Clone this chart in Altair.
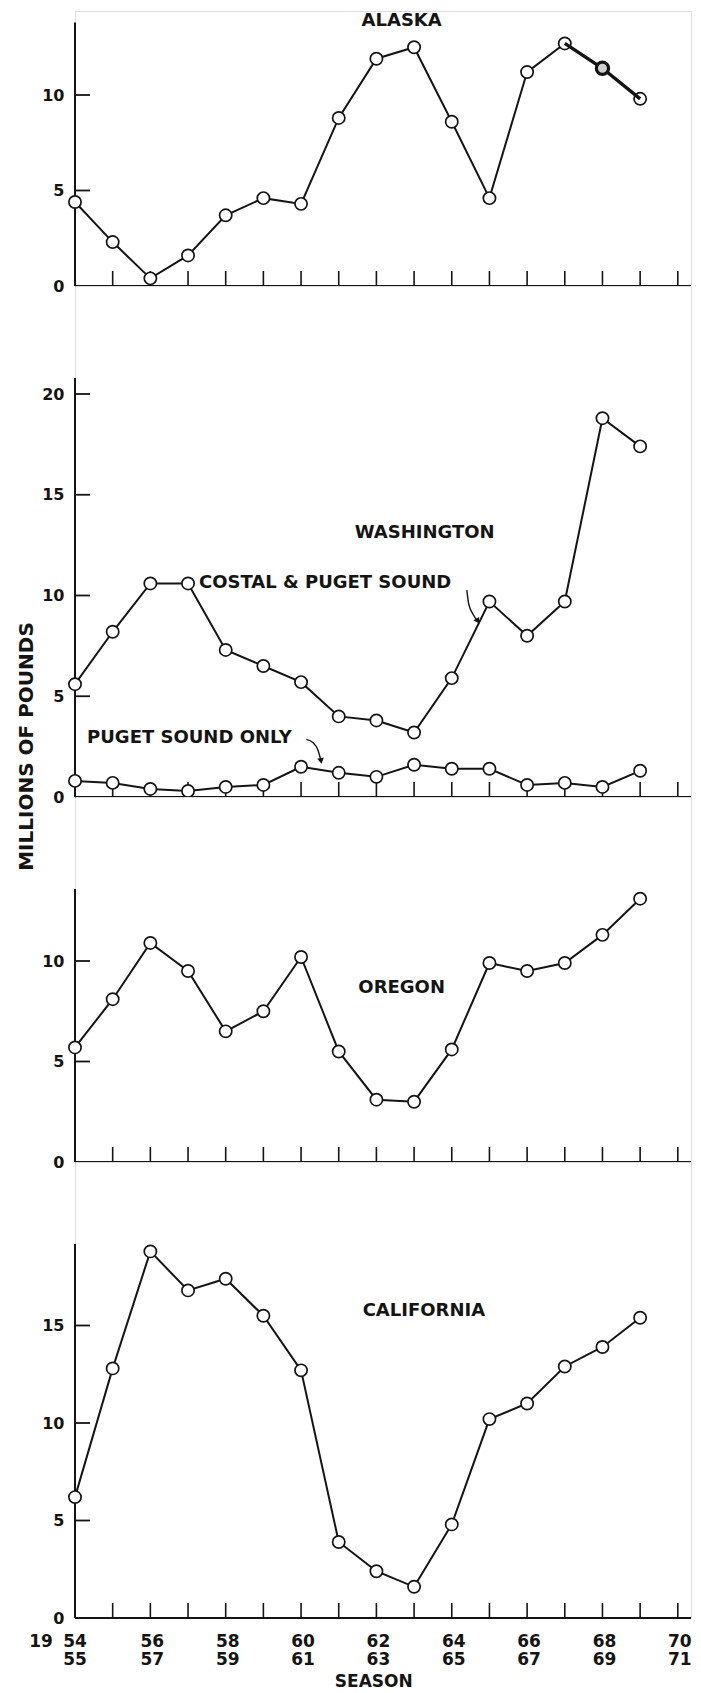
import altair as alt
import pandas as pd

# Landings by season, millions of pounds (seasons 1954-55 .. 1969-70)
YEARS = list(range(1954, 1970))
ALASKA = [4.4, 2.3, 0.4, 1.6, 3.7, 4.6, 4.3, 8.8, 11.9, 12.5, 8.6, 4.6, 11.2, 12.7, 11.4, 9.8]
WA_COASTAL_PUGET = [5.6, 8.2, 10.6, 10.6, 7.3, 6.5, 5.7, 4.0, 3.8, 3.2, 5.9, 9.7, 8.0, 9.7, 18.8, 17.4]
WA_PUGET_ONLY = [0.8, 0.7, 0.4, 0.3, 0.5, 0.6, 1.5, 1.2, 1.0, 1.6, 1.4, 1.4, 0.6, 0.7, 0.5, 1.3]
OREGON = [5.7, 8.1, 10.9, 9.5, 6.5, 7.5, 10.2, 5.5, 3.1, 3.0, 5.6, 9.9, 9.5, 9.9, 11.3, 13.1]
CALIFORNIA = [6.2, 12.8, 18.8, 16.8, 17.4, 15.5, 12.7, 3.9, 2.4, 1.6, 4.8, 10.2, 11.0, 12.9, 13.9, 15.4]

# Alaska seasons drawn with a heavier pen
ALASKA_HEAVY_YEARS = [1967, 1968, 1969]
ALASKA_HEAVY_POINT = [1968]

# Season axis
TICK_YEARS = list(range(1954, 1971))
LABEL_YEARS = list(range(1954, 1971, 2))
LABEL_TOP = ["54", "56", "58", "60", "62", "64", "66", "68", "70"]
LABEL_BOTTOM = ["55", "57", "59", "61", "63", "65", "67", "69", "71"]
X_END = 1970.35

# Leader arrows on the Washington panel (curve points, data units)
ARROW_ID = ["a", "a", "a", "a", "b", "b", "b", "b"]
ARROW_X = [1964.40, 1964.45, 1964.56, 1964.69, 1960.14, 1960.32, 1960.44, 1960.53]
ARROW_Y = [10.27, 9.58, 9.08, 8.73, 2.86, 2.69, 2.37, 1.79]
ARROW_HEAD_ANGLE = [150, 170]

FONT = "DejaVu Sans"
INK = "#141414"
W = 616
NOTE_SIZE = 18

xs = alt.Scale(domain=[1954, X_END], nice=False, zero=False)


def series_frame(named):
    rows = []
    for name, vals in named.items():
        for yr, v in zip(YEARS, vals):
            rows.append({"year": yr, "value": v, "series": name})
    return pd.DataFrame(rows)


def y_axis(label_vals, y_title=None):
    ax = dict(values=label_vals, domain=False, ticks=False, tickSize=0, grid=False,
              labelPadding=11, labelFont=FONT, labelFontSize=16, labelFontWeight="bold",
              labelColor=INK, title=None)
    if y_title:
        ax.update(title=y_title["text"], titleAngle=270, titleX=y_title["x"], titleY=y_title["y"],
                  titleFont=FONT, titleFontSize=20, titleFontWeight="bold", titleColor=INK,
                  titleAlign="center", titleBaseline="middle")
    return alt.Axis(**ax)


def make_panel(named, height, y_max, axis_top, tick_vals, label_vals,
               notes_center=(), notes_left=(), y_title=None, extra=()):
    ys = alt.Scale(domain=[0, y_max], nice=False, zero=True)
    X = alt.X("year:Q", scale=xs, axis=None)
    Y = alt.Y("value:Q", scale=ys, axis=y_axis(label_vals, y_title))

    data = series_frame(named)

    y_line = alt.Chart(pd.DataFrame({"year": [1954], "value": [0], "value2": [axis_top]})).mark_rule(
        color=INK, strokeWidth=2).encode(x=X, y=Y, y2="value2:Q")
    x_line = alt.Chart(pd.DataFrame({"year": [1954], "year2": [X_END], "value": [0]})).mark_rule(
        color=INK, strokeWidth=2).encode(x=X, x2="year2:Q", y=Y)
    x_ticks = alt.Chart(pd.DataFrame({"year": TICK_YEARS})).mark_rule(
        color=INK, strokeWidth=1.6).encode(x=X, y=alt.value(height), y2=alt.value(height - 15))
    y_ticks = alt.Chart(pd.DataFrame({"value": tick_vals})).mark_rule(
        color=INK, strokeWidth=1.8).encode(y=Y, x=alt.value(0), x2=alt.value(15))

    lines = alt.Chart(data).mark_line(color=INK, strokeWidth=2).encode(
        x=X, y=Y, detail="series:N")
    pts = alt.Chart(data).mark_circle(size=150, color="white", stroke=INK, strokeWidth=1.7,
                                      opacity=1).encode(x=X, y=Y)

    layers = [x_line, y_line, x_ticks, y_ticks, lines]
    layers += list(extra)
    layers.append(pts)

    for anno in notes_center:
        layers.append(alt.Chart(pd.DataFrame([anno])).mark_text(
            font=FONT, fontSize=NOTE_SIZE, fontWeight="bold", color=INK, align="center",
            baseline="middle").encode(x=X, y=Y, text="text:N"))
    for anno in notes_left:
        layers.append(alt.Chart(pd.DataFrame([anno])).mark_text(
            font=FONT, fontSize=NOTE_SIZE, fontWeight="bold", color=INK, align="left",
            baseline="middle").encode(x=X, y=Y, text="text:N"))
    return layers, X, Y


# ---- Alaska
AK_H = 275
alaska_df = series_frame({"Alaska": ALASKA})
heavy = alaska_df[alaska_df["year"].isin(ALASKA_HEAVY_YEARS)]
heavy_pt = alaska_df[alaska_df["year"].isin(ALASKA_HEAVY_POINT)]
ak_layers, X_ak, Y_ak = make_panel(
    {"Alaska": ALASKA}, AK_H, AK_H / 19.1, 13.8, [5, 10], [0, 5, 10],
    notes_center=[{"year": 1962.67, "value": 13.87, "text": "ALASKA"}])
heavy_line = alt.Chart(heavy).mark_line(color=INK, strokeWidth=3.4).encode(x=X_ak, y=Y_ak)
heavy_circle = alt.Chart(heavy_pt).mark_circle(size=150, color="#cfcfcf", stroke=INK,
                                               strokeWidth=3.2, opacity=1).encode(x=X_ak, y=Y_ak)
ak_layers += [heavy_line, heavy_circle]
alaska = alt.layer(*ak_layers).properties(width=W, height=AK_H)

# ---- Washington
WA_H = 511
arrows = pd.DataFrame({"arrow": ARROW_ID, "year": ARROW_X, "value": ARROW_Y})
heads = arrows.groupby("arrow").tail(1).copy()
heads["angle"] = ARROW_HEAD_ANGLE
ys_wa = alt.Scale(domain=[0, WA_H / 20.15], nice=False)
X_wa = alt.X("year:Q", scale=xs, axis=None)
Y_wa_plain = alt.Y("value:Q", scale=ys_wa)
arrow_lines = alt.Chart(arrows).mark_line(color=INK, strokeWidth=1.4, interpolate="monotone").encode(
    x=X_wa, y=Y_wa_plain, detail="arrow:N")
arrow_heads = alt.Chart(heads).mark_point(shape="triangle-up", size=45, filled=True, color=INK,
                                          opacity=1).encode(
    x=X_wa, y=Y_wa_plain, angle=alt.Angle("angle:Q", scale=None))
wa_layers, _, _ = make_panel(
    {"Coastal & Puget Sound": WA_COASTAL_PUGET, "Puget Sound only": WA_PUGET_ONLY},
    WA_H, WA_H / 20.15, 20.79, [5, 10, 15, 20], [0, 5, 10, 15, 20],
    notes_center=[{"year": 1963.28, "value": 13.1, "text": "WASHINGTON"}],
    notes_left=[{"year": 1957.29, "value": 10.62, "text": "COSTAL & PUGET SOUND"},
                {"year": 1954.32, "value": 2.93, "text": "PUGET SOUND ONLY"}],
    y_title={"text": "MILLIONS OF POUNDS", "x": -49, "y": 460},
    extra=[arrow_lines, arrow_heads])
washington = alt.layer(*wa_layers).properties(width=W, height=WA_H)

# ---- Oregon
OR_H = 365
or_layers, _, _ = make_panel(
    {"Oregon": OREGON}, OR_H, OR_H / 20.1, 13.58, [5, 10], [0, 5, 10],
    notes_center=[{"year": 1962.67, "value": 8.66, "text": "OREGON"}])
oregon = alt.layer(*or_layers).properties(width=W, height=OR_H)

# ---- California with the season axis underneath
CA_H = 456
ca_layers, X_ca, Y_ca = make_panel(
    {"California": CALIFORNIA}, CA_H, CA_H / 19.5, 19.18, [5, 10, 15], [0, 5, 10, 15],
    notes_center=[{"year": 1963.26, "value": 15.74, "text": "CALIFORNIA"}])
season_df = pd.DataFrame({"year": LABEL_YEARS, "top": LABEL_TOP, "bottom": LABEL_BOTTOM})
first = season_df.iloc[:1]
rest = season_df.iloc[1:]
lab_style = dict(font=FONT, fontSize=17, fontWeight="bold", color=INK, align="center",
                 baseline="middle")
top_labels = alt.Chart(rest).mark_text(dx=2, **lab_style).encode(
    x=X_ca, y=alt.value(CA_H + 24), text="top:N")
bottom_labels = alt.Chart(rest).mark_text(dx=2, **lab_style).encode(
    x=X_ca, y=alt.value(CA_H + 42), text="bottom:N")
first_top = alt.Chart(first).mark_text(dx=0, **lab_style).encode(
    x=X_ca, y=alt.value(CA_H + 24), text="top:N")
first_bottom = alt.Chart(first).mark_text(dx=0, **lab_style).encode(
    x=X_ca, y=alt.value(CA_H + 42), text="bottom:N")
century = alt.Chart(pd.DataFrame({"year": [1954], "pre": ["19"]})).mark_text(
    dx=-34, **lab_style).encode(x=X_ca, y=alt.value(CA_H + 24), text="pre:N")
season_title = alt.Chart(pd.DataFrame({"year": [1961.93], "t": ["SEASON"]})).mark_text(
    **lab_style).encode(x=X_ca, y=alt.value(CA_H + 64), text="t:N")
ca_layers += [top_labels, bottom_labels, first_top, first_bottom, century, season_title]
california = alt.layer(*ca_layers).properties(width=W, height=CA_H)

chart = alt.vconcat(alaska, washington, oregon, california, spacing=0, bounds="flush").properties(
    padding={"left": 15, "top": 10, "right": 5, "bottom": 2}
).configure_view(stroke=None).configure(background="white")

chart.save("out.html", embed_options={"renderer": "svg", "actions": False})
